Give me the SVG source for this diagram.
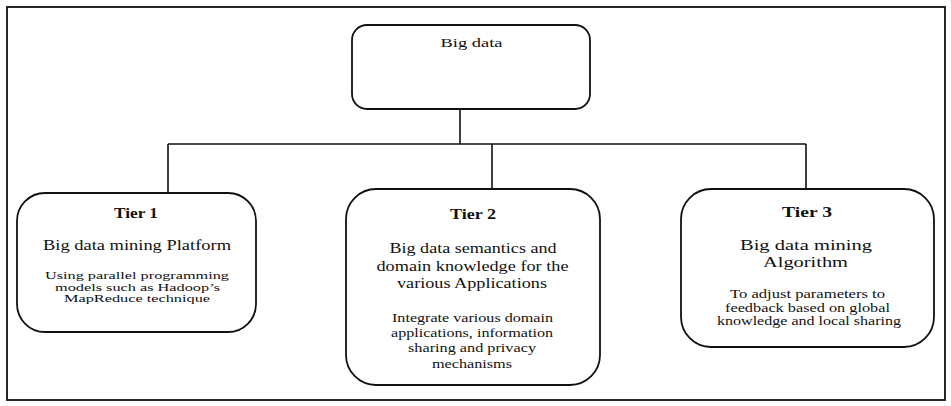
<svg xmlns="http://www.w3.org/2000/svg" width="951" height="406" viewBox="0 0 951 406">
<style>
text{font-family:"Liberation Serif","Times New Roman",serif;fill:#111;text-anchor:middle}
.box{fill:#fff;stroke:#111;stroke-width:1.8}
.con{fill:none;stroke:#111;stroke-width:1.6}
.tier{font-weight:bold;font-size:14px}
.ttl{font-size:15px}
.body{font-size:12.5px}
.small{font-size:11px}
</style>
<rect x="7" y="7" width="938" height="393" fill="#fff" stroke="#111" stroke-width="1.8"/>
<g id="connectors">
<path class="con" d="M460 109V144M168 144H806M168 144V193M492 144V189M806 144V189"/>
</g>
<g id="bigdata">
<rect class="box" x="352" y="25" width="238" height="84" rx="15"/>
<text x="471.5" y="47" font-size="13" textLength="62" lengthAdjust="spacingAndGlyphs">Big data</text>
</g>
<g id="tier1">
<rect class="box" x="17" y="193" width="239" height="139" rx="28"/>
<text class="tier" x="136" y="218" textLength="44" lengthAdjust="spacingAndGlyphs">Tier 1</text>
<text class="ttl" x="137" y="250" textLength="188" lengthAdjust="spacingAndGlyphs">Big data mining Platform</text>
<text class="small" x="137" y="279" textLength="184" lengthAdjust="spacingAndGlyphs">Using parallel programming</text>
<text class="small" x="137.5" y="290.5" textLength="165" lengthAdjust="spacingAndGlyphs">models such as Hadoop’s</text>
<text class="small" x="137" y="302" textLength="146" lengthAdjust="spacingAndGlyphs">MapReduce technique</text>
</g>
<g id="tier2">
<rect class="box" x="346" y="189" width="254" height="196" rx="30"/>
<text class="tier" x="473" y="219" textLength="46" lengthAdjust="spacingAndGlyphs">Tier 2</text>
<text class="ttl" x="473" y="253" textLength="167" lengthAdjust="spacingAndGlyphs">Big data semantics and</text>
<text class="ttl" x="472.5" y="270.5" textLength="192" lengthAdjust="spacingAndGlyphs">domain knowledge for the</text>
<text class="ttl" x="472" y="288" textLength="150" lengthAdjust="spacingAndGlyphs">various Applications</text>
<text class="body" x="472.5" y="321.5" textLength="161" lengthAdjust="spacingAndGlyphs">Integrate various domain</text>
<text class="body" x="472" y="336.5" textLength="162" lengthAdjust="spacingAndGlyphs">applications, information</text>
<text class="body" x="472" y="351.5" textLength="128" lengthAdjust="spacingAndGlyphs">sharing and privacy</text>
<text class="body" x="472" y="368" textLength="80" lengthAdjust="spacingAndGlyphs">mechanisms</text>
</g>
<g id="tier3">
<rect class="box" x="681" y="189" width="253" height="158" rx="30"/>
<text class="tier" x="807" y="217" font-size="15.5" textLength="50" lengthAdjust="spacingAndGlyphs">Tier 3</text>
<text x="806" y="250" font-size="15.5" textLength="132" lengthAdjust="spacingAndGlyphs">Big data mining</text>
<text x="805.5" y="267" font-size="15.5" textLength="85" lengthAdjust="spacingAndGlyphs">Algorithm</text>
<text class="body" x="807.5" y="298" textLength="155" lengthAdjust="spacingAndGlyphs">To adjust parameters to</text>
<text class="body" x="807.5" y="311.5" textLength="165" lengthAdjust="spacingAndGlyphs">feedback based on global</text>
<text class="body" x="809" y="325" textLength="184" lengthAdjust="spacingAndGlyphs">knowledge and local sharing</text>
</g>
</svg>
